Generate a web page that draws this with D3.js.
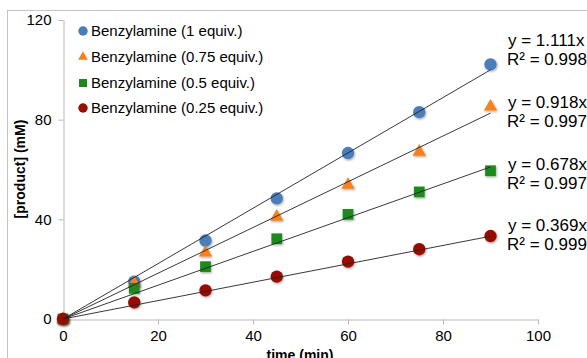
<!DOCTYPE html>
<html>
<head>
<meta charset="utf-8">
<script src="https://cdn.jsdelivr.net/npm/d3@7"></script>
<style>
  body { margin: 0; background: #fff; }
  svg { font-family: "Liberation Sans", Arial, sans-serif; }
</style>
</head>
<body>
<div id="chart"></div>
<script>
// ----------------------------------------------- //
// Data
var times = [0, 15, 30, 45, 60, 75, 90];
var seriesNames = ["Benzylamine (1 equiv.)", "Benzylamine (0.75 equiv.)",
    "Benzylamine (0.5 equiv.)", "Benzylamine (0.25 equiv.)"];
var eq1 = [0, 15.0, 31.5, 48.4, 66.6, 83.0, 102.2];
var eq075 = [0, 14.2, 26.6, 41.0, 53.8, 67.1, 85.2];
var eq05 = [0, 12.3, 21.0, 32.2, 42.0, 51.0, 59.5];
var eq025 = [0, 6.7, 11.5, 17.0, 23.0, 28.0, 33.3];
var slopes = [1.111, 0.918, 0.678, 0.369];
var r2 = ["0.998", "0.997", "0.997", "0.999"];
var xTicks = [0, 20, 40, 60, 80, 100];
var yTicks = [0, 40, 80, 120];

var allSeries = [eq1, eq075, eq05, eq025];
var colors = ["#4a7ebb", "#f7811e", "#1b8a1b", "#960f05"];
var shapes = [d3.symbolCircle, d3.symbolTriangle, d3.symbolSquare, d3.symbolCircle];
var sizes = [120, 78, 115, 120];
var legendSizes = [70, 42, 64, 70];

// ----------------------------------------------- //
var svgWidth = 587;
var svgHeight = 358;

var svg = d3.select("#chart")
    .append("svg")
    .attr("width", svgWidth)
    .attr("height", svgHeight);

// chart border (runs off the picture on right and bottom)
svg.append("rect")
    .attr("x", 7.5)
    .attr("y", 10.5)
    .attr("width", 700)
    .attr("height", 500)
    .attr("fill", "none")
    .attr("stroke", "#c4c4c4");

var xScale = d3.scaleLinear().domain([0, 100]).range([63, 538]);
var yScale = d3.scaleLinear().domain([0, 120]).range([319, 20]);

var axisColor = "#b8b8b8";

// x axis
var xAxis = svg.append("g")
    .attr("transform", "translate(0, 319.5)")
    .call(d3.axisBottom(xScale).tickValues(xTicks).tickSize(5).tickPadding(6).tickSizeOuter(0));
// y axis
var yAxis = svg.append("g")
    .attr("transform", "translate(63.5, 0)")
    .call(d3.axisLeft(yScale).tickValues(yTicks).tickSize(5).tickPadding(7).tickSizeOuter(0));

[xAxis, yAxis].forEach(function(ax) {
    ax.select(".domain").attr("stroke", axisColor);
    ax.selectAll(".tick line").attr("stroke", axisColor);
    ax.selectAll(".tick text")
        .attr("fill", "#000")
        .style("font-size", "15px")
        .style("font-family", "Liberation Sans, Arial, sans-serif");
});

// axis titles
svg.append("text")
    .attr("x", 300)
    .attr("y", 360)
    .attr("text-anchor", "middle")
    .style("font-size", "14px")
    .style("font-weight", "bold")
    .text("time (min)");

svg.append("text")
    .attr("transform", "translate(25, 169) rotate(-90)")
    .attr("text-anchor", "middle")
    .style("font-size", "14px")
    .style("font-weight", "bold")
    .text("[product] (mM)");

// shadow filter for markers
var defs = svg.append("defs");
var filt = defs.append("filter").attr("id", "shadow")
    .attr("x", "-50%").attr("y", "-50%").attr("width", "200%").attr("height", "200%");
filt.append("feDropShadow")
    .attr("dx", 0.8).attr("dy", 1.2).attr("stdDeviation", 0.9)
    .attr("flood-color", "#000").attr("flood-opacity", 0.35);

// markers
allSeries.forEach(function(vals, i) {
    svg.append("g")
        .selectAll("path")
        .data(vals)
        .enter()
        .append("path")
        .attr("d", d3.symbol().type(shapes[i]).size(sizes[i]))
        .attr("transform", function(d, j) {
            return "translate(" + xScale(times[j]) + "," + yScale(d) + ")";
        })
        .attr("fill", colors[i])
        .attr("filter", "url(#shadow)");
});

// linear trend lines (through origin)
slopes.forEach(function(s) {
    svg.append("line")
        .attr("x1", xScale(0))
        .attr("y1", yScale(0))
        .attr("x2", xScale(90))
        .attr("y2", yScale(s * 90))
        .attr("stroke", "#222")
        .attr("stroke-width", 0.9);
});

// equation labels
var eqY = [40, 102, 164, 225];
slopes.forEach(function(s, i) {
    var g = svg.append("text")
        .style("font-size", "17px")
        .attr("x", 508);
    g.append("tspan").attr("x", 508).attr("y", eqY[i] + 6).text("y = " + s.toFixed(3) + "x");
    g.append("tspan").attr("x", 507).attr("y", eqY[i] + 25).text("R\u00b2 = " + r2[i]);
});

// legend
var legY = [31, 57, 83, 108];
seriesNames.forEach(function(name, i) {
    svg.append("path")
        .attr("d", d3.symbol().type(shapes[i]).size(legendSizes[i]))
        .attr("transform", "translate(83," + legY[i] + ")")
        .attr("fill", colors[i]);
    svg.append("text")
        .attr("x", 91)
        .attr("y", legY[i] + 5)
        .style("font-size", "15px")
        .text(name);
});
</script>
</body>
</html>
